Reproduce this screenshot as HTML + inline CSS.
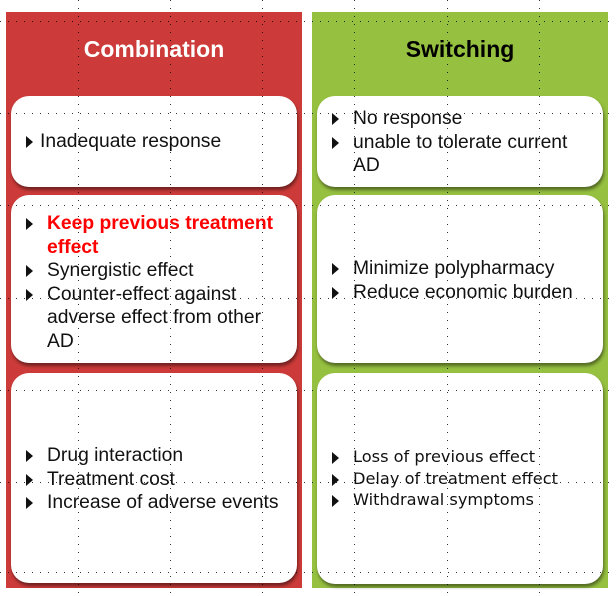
<!DOCTYPE html>
<html><head><style>
body{margin:0;width:616px;height:596px;background:#fff;position:relative;overflow:hidden;font-family:"Liberation Sans",sans-serif;}
.p{position:absolute;top:12px;height:576px;width:296px;}
.red{left:6px;background:#cc3b39;}
.grn{left:312px;background:#96c040;}
.t{position:absolute;top:24px;width:100%;text-align:center;font-weight:bold;font-size:23px;}
.b{position:absolute;background:#fff;border-radius:18px;box-shadow:1px 3px 3px rgba(0,0,0,0.45);left:5px;width:286px;}
.tx{position:absolute;left:14px;font-size:19.3px;line-height:23.5px;color:#111;}
.tx div{position:relative;padding-left:22px;}
.tx div.a:before{content:"";position:absolute;left:1px;top:6px;border-left:7px solid #111;border-top:6px solid transparent;border-bottom:6px solid transparent;}
.g{font-family:"DejaVu Sans",sans-serif;font-size:16.2px;line-height:21.5px;}
svg{position:absolute;left:0;top:0;}
</style></head><body>
<div class="p red"><div class="t" style="color:#fff">Combination</div>
<div class="b" style="top:84px;height:91px"><div class="tx" style="top:34px"><div class="a" style="padding-left:15px">Inadequate response</div></div></div>
<div class="b" style="top:183px;height:168px"><div class="tx" style="top:17px">
<div class="a" style="color:#f00;font-weight:bold">Keep previous treatment</div>
<div style="color:#f00;font-weight:bold">effect</div>
<div class="a">Synergistic effect</div>
<div class="a">Counter-effect against</div>
<div>adverse effect from other</div><div>AD</div></div></div>
<div class="b" style="top:361px;height:210px"><div class="tx" style="top:71px">
<div class="a">Drug interaction</div><div class="a">Treatment cost</div><div class="a">Increase of adverse events</div></div></div>
</div>
<div class="p grn"><div class="t" style="color:#000">Switching</div>
<div class="b" style="top:84px;height:91px"><div class="tx" style="top:11px">
<div class="a">No response</div><div class="a">unable to tolerate current</div><div>AD</div></div></div>
<div class="b" style="top:183px;height:168px"><div class="tx" style="top:62px">
<div class="a">Minimize polypharmacy</div><div class="a">Reduce economic burden</div></div></div>
<div class="b" style="top:361px;height:211px"><div class="tx g" style="top:73px">
<div class="a">Loss of previous effect</div><div class="a">Delay of treatment effect</div><div class="a">Withdrawal symptoms</div></div></div>
</div>
<svg width="616" height="596"><g stroke="#000" stroke-width="1" stroke-dasharray="1 7" opacity="0.8">
<line x1="78.5" y1="0" x2="78.5" y2="596"/><line x1="170.5" y1="0" x2="170.5" y2="596"/><line x1="262.5" y1="0" x2="262.5" y2="596"/>
<line x1="354.5" y1="0" x2="354.5" y2="596"/><line x1="447.5" y1="0" x2="447.5" y2="596"/><line x1="539.5" y1="0" x2="539.5" y2="596"/>
<line x1="0" y1="21.5" x2="616" y2="21.5"/><line x1="0" y1="113.5" x2="616" y2="113.5"/><line x1="0" y1="205.5" x2="616" y2="205.5"/>
<line x1="0" y1="298.5" x2="616" y2="298.5"/><line x1="0" y1="390.5" x2="616" y2="390.5"/><line x1="0" y1="482.5" x2="616" y2="482.5"/><line x1="0" y1="572.5" x2="616" y2="572.5"/>
</g></svg>
</body></html>
